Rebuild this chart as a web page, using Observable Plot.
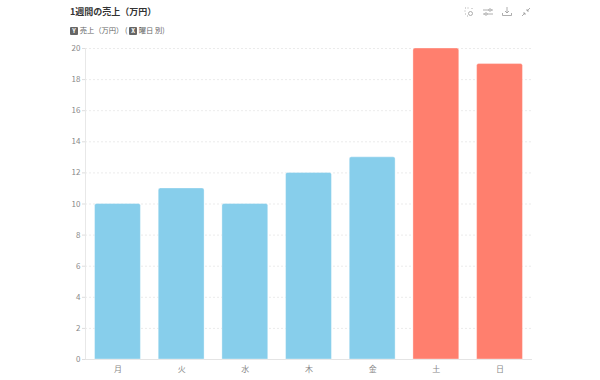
<!DOCTYPE html>
<html><head><meta charset="utf-8">
<script src="https://cdn.jsdelivr.net/npm/d3@7"></script>
<script src="https://cdn.jsdelivr.net/npm/@observablehq/plot@0.6"></script>
<style>
html,body{margin:0;padding:0;background:#fff;font-family:"Noto Sans CJK JP","Noto Sans",sans-serif;}
#wrap{position:relative;width:600px;height:380px;overflow:hidden}
#title{position:absolute;left:70px;top:5px;font-size:9px;font-weight:700;color:#333;line-height:14px}
#sub{position:absolute;left:70px;top:24px;font-size:7.3px;color:#666;line-height:13px;white-space:nowrap}
#sub b{display:inline-block;width:8px;height:8px;line-height:8px;background:#666;color:#fff;font-size:6px;text-align:center;border-radius:1px;font-weight:700;vertical-align:0}
#tools{position:absolute;left:464px;top:7px;display:flex;gap:9px}
#tools svg{display:block}
#chart{position:absolute;left:0;top:40px}
</style></head><body>
<div id="wrap">
<div id="title"></div>
<div id="sub"></div>
<div id="tools">
<svg width="10" height="10" viewBox="0 0 10 10" fill="none" stroke="#999" stroke-width=".8"><circle cx="6.5" cy="6.5" r="2"/><path d="M1 1h1M4 .5v1M.5 4h1M1 7h1M8 1v1M3 9h1"/></svg>
<svg width="10" height="10" viewBox="0 0 10 10" fill="none" stroke="#999" stroke-width=".8"><path d="M0 3h6M8 3h2M0 7h2M4 7h6"/><circle cx="7" cy="3" r="1.2"/><circle cx="3" cy="7" r="1.2"/></svg>
<svg width="10" height="10" viewBox="0 0 10 10" fill="none" stroke="#999" stroke-width=".8"><path d="M5 0v6M3 4l2 2 2-2M.5 6v2.5h9V6"/></svg>
<svg width="10" height="10" viewBox="0 0 10 10" fill="none" stroke="#999" stroke-width=".8"><path d="M9 1L6 4M6 2v2h2M1 9l3-3M2 6h2v2"/></svg>
</div>
<div id="chart"></div>
</div>
<script>
const titleText = "1週間の売上（万円）";
const days = ["月","火","水","木","金","土","日"];
const sales = [10,11,10,12,13,20,19];
const colors = ["#87ceeb","#87ceeb","#87ceeb","#87ceeb","#87ceeb","#ff7f6e","#ff7f6e"];
const yTicks = d3.range(0,21,2);

document.getElementById("title").textContent = titleText;
document.getElementById("sub").innerHTML = '<b>Y</b> 売上（万円） ( <b>X</b> 曜日 別)';

const rows = days.map((d,i)=>({day:d,sales:sales[i],color:colors[i]}));
const font = '"Noto Sans CJK JP","Noto Sans",sans-serif';
const chart = Plot.plot({
  width:600, height:340,
  marginLeft:85, marginRight:68, marginTop:8, marginBottom:21,
  style:{fontFamily:font,fontSize:"8px",color:"#888",background:"#fff"},
  x:{domain:days,paddingInner:0.28,paddingOuter:0.15,round:false,label:null,tickSize:0,tickPadding:7},
  y:{domain:[0,20],label:null,ticks:yTicks,tickSize:3,tickPadding:2},
  marks:[
    Plot.ruleY(yTicks,{stroke:"#e6e6e6",strokeWidth:0.8,strokeDasharray:"2,2"}),
    Plot.frame({anchor:"left",stroke:"#e8e8e8"}),
    Plot.ruleY([0],{stroke:"#e4e4e4"}),
    Plot.barY(rows,{x:"day",y:"sales",fill:"color",stroke:"#fff",strokeOpacity:0.35,strokeWidth:1,rx1y1:2,rx2y1:2,rx1y2:0,rx2y2:0})
  ]
});
chart.querySelectorAll('[aria-label="y-axis tick"] path').forEach(p=>p.setAttribute("stroke","#ddd"));
document.getElementById("chart").appendChild(chart);
</script>
</body></html>
